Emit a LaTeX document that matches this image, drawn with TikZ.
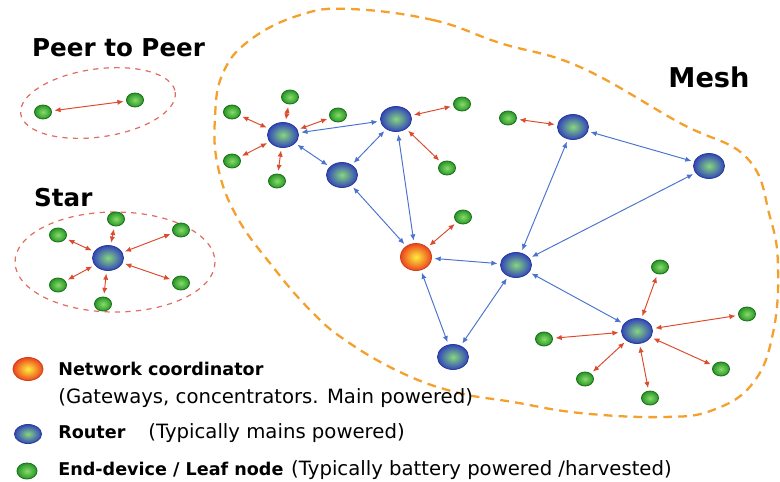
\documentclass[tikz,border=0pt]{standalone}
\usepackage{fontspec}
\setmainfont{DejaVu Sans}
\usetikzlibrary{shapes.geometric, arrows.meta}

\definecolor{leafout}{RGB}{40,150,40}
\definecolor{leafin}{RGB}{135,220,105}
\definecolor{leafline}{RGB}{30,115,30}
\definecolor{routout}{RGB}{50,70,185}
\definecolor{routin}{RGB}{135,215,125}
\definecolor{hubout}{RGB}{235,70,30}
\definecolor{hubin}{RGB}{255,238,60}
\definecolor{linkblue}{RGB}{75,115,205}
\definecolor{linkred}{RGB}{220,75,45}
\definecolor{meshorange}{RGB}{245,160,45}
\definecolor{groupred}{RGB}{225,110,100}

\begin{document}
\begin{tikzpicture}[x = 0.02cm, y = -0.02cm,
    font = \fontsize{11.2}{13}\selectfont,
    leaf/.style = {ellipse, draw = leafline, line width = 0.5pt, inner color = leafin,
      outer color = leafout, minimum width = 0.34cm, minimum height = 0.28cm, inner sep = 0pt},
    router/.style = {ellipse, draw = routout!85!black, line width = 0.5pt, inner color = routin,
      outer color = routout, minimum width = 0.62cm, minimum height = 0.5cm, inner sep = 0pt},
    hub/.style = {ellipse, draw = hubout!90!black, line width = 0.5pt, inner color = hubin,
      outer color = hubout, minimum width = 0.62cm, minimum height = 0.54cm, inner sep = 0pt},
    blink/.style = {{Latex[length = 3.5pt, width = 3pt]}-{Latex[length = 3.5pt, width = 3pt]},
      linkblue, line width = 0.55pt, shorten > = 1.5pt, shorten < = 1.5pt},
    rlink/.style = {{Latex[length = 3.5pt, width = 3pt]}-{Latex[length = 3.5pt, width = 3pt]},
      linkred, line width = 0.55pt, shorten > = 1.5pt, shorten < = 1.5pt},
    group/.style = {groupred, dashed, line width = 0.7pt},
    heading/.style = {anchor = west, font = \fontsize{14}{16}\selectfont\bfseries},
    legend/.style = {anchor = base west, inner sep = 0pt},
    keybold/.style = {font = \fontsize{10}{13}\selectfont\bfseries}]
      \useasboundingbox (0, 0) rectangle (780, 481);

      % peer to peer
      \node [heading] (ptitle) at (26, 48) {Peer to Peer};
      \draw [group, rotate around = {8:(98, 103)}] (98, 103) ellipse [x radius = 78, y radius = 34];
      \node [leaf] (p1) at (43, 112) {};
      \node [leaf] (p2) at (135, 100) {};
      \draw [rlink] (p1) -- (p2);

      % star
      \node [heading] (stitle) at (28, 198) {Star};
      \draw [group] (115, 262) ellipse [x radius = 100, y radius = 50];
      \node [router] (s0) at (108, 258) {};
      \node [leaf] (s1) at (58, 235) {};
      \node [leaf] (s2) at (116, 219) {};
      \node [leaf] (s3) at (181, 230) {};
      \node [leaf] (s4) at (58, 285) {};
      \node [leaf] (s5) at (103, 304) {};
      \node [leaf] (s6) at (181, 283) {};
      \foreach \i in {1, ..., 6}
        \draw [rlink] (s0) -- (s\i);

      % mesh
      \node [font = \fontsize{15.5}{18}\selectfont\bfseries] (mtitle) at (709, 77) {Mesh};
      \draw [meshorange, dashed, dash pattern = on 5pt off 3.5pt, line width = 1.3pt]
        plot [smooth cycle, tension = 0.7] coordinates {(350, 9) (433, 20) (500, 43) (580, 67)
        (680, 123) (747, 158) (770, 217) (778, 267) (773, 333) (753, 383) (713, 410) (663, 417)
        (580, 413) (513, 402) (455, 392) (400, 372) (345, 340) (310, 310) (273, 267) (237, 217)
        (218, 167) (215, 117) (223, 73) (250, 40) (300, 15)};
      \node [router] (ra) at (283, 135) {};
      \node [router] (rb) at (396, 119) {};
      \node [router] (rc) at (342, 175) {};
      \node [hub] (gw) at (416, 257) {};
      \node [router] (rd) at (516, 265) {};
      \node [router] (re) at (573, 127) {};
      \node [router] (rf) at (709, 166) {};
      \node [router] (rg) at (637, 331) {};
      \node [router] (rh) at (453, 357) {};
      \node [leaf] (a1) at (232, 112) {};
      \node [leaf] (a2) at (290, 97) {};
      \node [leaf] (a3) at (338, 115) {};
      \node [leaf] (a4) at (232, 161) {};
      \node [leaf] (a5) at (277, 181) {};
      \node [leaf] (b1) at (462, 104) {};
      \node [leaf] (b2) at (447, 168) {};
      \node [leaf] (w1) at (463, 217) {};
      \node [leaf] (e1) at (508, 118) {};
      \node [leaf] (g1) at (660, 267) {};
      \node [leaf] (g2) at (747, 314) {};
      \node [leaf] (g3) at (544, 339) {};
      \node [leaf] (g4) at (585, 379) {};
      \node [leaf] (g5) at (650, 398) {};
      \node [leaf] (g6) at (721, 369) {};
      \foreach \i in {1, ..., 5}
        \draw [rlink] (ra) -- (a\i);
      \draw [rlink] (rb) -- (b1);
      \draw [rlink] (rb) -- (b2);
      \draw [rlink] (gw) -- (w1);
      \draw [rlink] (re) -- (e1);
      \foreach \i in {1, ..., 6}
        \draw [rlink] (rg) -- (g\i);
      \draw [blink] (ra) -- (rb);
      \draw [blink] (ra) -- (rc);
      \draw [blink] (rc) -- (rb);
      \draw [blink] (rc) -- (gw);
      \draw [blink] (rb) -- (gw);
      \draw [blink] (gw) -- (rd);
      \draw [blink] (gw) -- (rh);
      \draw [blink] (rh) -- (rd);
      \draw [blink] (rd) -- (re);
      \draw [blink] (rd) -- (rf);
      \draw [blink] (re) -- (rf);
      \draw [blink] (rd) -- (rg);

      % legend
      \node [hub, minimum width = 0.6cm, minimum height = 0.46cm] (khub) at (28, 369) {};
      \node [router, minimum width = 0.54cm, minimum height = 0.38cm] (krouter) at (28, 434) {};
      \node [leaf, minimum width = 0.4cm, minimum height = 0.32cm] (kleaf) at (27, 471) {};
      \node [legend, keybold] (thub) at (58, 375) {Network coordinator};
      \node [legend] (thub2) at (58, 403) {(Gateways, concentrators. Main powered)};
      \node [legend, keybold] (trouter) at (58, 438) {Router};
      \node [legend] (trouter2) at (148, 438) {(Typically mains powered)};
      \node [legend, keybold] (tleaf) at (58, 475) {End-device / Leaf node};
      \node [legend] (tleaf2) at ([xshift = 4pt] tleaf.base east) {(Typically battery powered /harvested)};
    \end{tikzpicture}
\end{document}
